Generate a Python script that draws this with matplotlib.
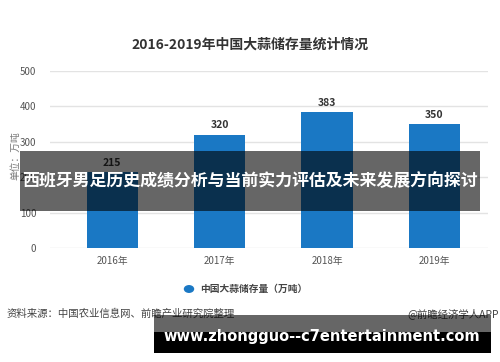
import matplotlib
matplotlib.use("Agg")
import matplotlib.pyplot as plt
from matplotlib.patches import Rectangle

plt.rcParams['font.family'] = ['Noto Sans CJK SC', 'DejaVu Sans']

categories = ["2016年", "2017年", "2018年", "2019年"]
values = [215, 320, 383, 350]
yticks = [0, 100, 200, 300, 400, 500]
title = "2016-2019年中国大蒜储存量统计情况"
ylabel = "单位：万吨"
legend_label = "中国大蒜储存量（万吨）"
source = "资料来源：中国农业信息网、前瞻产业研究院整理"
brand = "@前瞻经济学人APP"
banner = "西班牙男足历史成绩分析与当前实力评估及未来发展方向探讨"
url = "www.zhongguo--c7entertainment.com"

W, H = 500, 362
fig = plt.figure(figsize=(W/100, H/100), dpi=100)
fig.patch.set_facecolor("white")

ax = fig.add_axes([50/W, 1-248/H, 438/W, 177/H])
bar_color = "#1a78c4"
x = list(range(len(categories)))
ax.bar(x, values, width=0.48, color=bar_color, zorder=2)
for xi, v in zip(x, values):
    ax.text(xi, v + 12, str(v), ha="center", va="bottom", fontsize=7.5,
            fontweight="bold", color="#333333")
ax.set_xlim(-0.58, 3.5)
ax.set_ylim(0, 500)
ax.set_yticks(yticks)
ax.set_yticklabels([str(t) for t in yticks], fontsize=7, color="#555555")
ax.set_xticks(x)
ax.set_xticklabels(categories, fontsize=7, color="#555555")
ax.tick_params(axis="both", length=0, pad=6)
ax.tick_params(axis="y", pad=10)
ax.grid(axis="y", color="#e3e3e3", linewidth=1.0, zorder=0)
for s in ax.spines.values():
    s.set_visible(False)
ax.set_facecolor("white")

fig.text(15/W, 1-156/H, ylabel, rotation=90, ha="center", va="center",
         fontsize=7, color="#777777")

fig.text(250/W, 1-45/H, title, ha="center", va="center", fontsize=10,
         fontweight="bold", color="#333333")

# legend
fig.patches.append(plt.Circle((189/W, 1-289/H), 4.5/W, transform=fig.transFigure,
                              color=bar_color, figure=fig))
fig.text(200/W, 1-289/H, legend_label, ha="left", va="center", fontsize=7,
         fontweight="bold", color="#444444")

fig.text(7/W, 1-314/H, source, ha="left", va="center", fontsize=7.5, color="#444444")
fig.text(499/W, 1-314/H, brand, ha="right", va="center", fontsize=7.5, color="#444444")

# banner overlay
fig.patches.append(Rectangle((20/W, 1-211/H), 460/W, 60/H, transform=fig.transFigure,
                             facecolor="black", alpha=0.6, edgecolor="none", zorder=5, figure=fig))
fig.text(250/W, 1-181/H, banner, ha="center", va="center", fontsize=12.2,
         fontweight="bold", color="white", zorder=6)

# url band
fig.patches.append(Rectangle((154/W, 1-332/H), 337/W, 17/H, transform=fig.transFigure,
                             facecolor="black", alpha=0.6, edgecolor="none", zorder=5, figure=fig))
fig.patches.append(Rectangle((154/W, 1-353/H), 337/W, 21/H, transform=fig.transFigure,
                             facecolor="black", edgecolor="none", zorder=5, figure=fig))
fig.text(322/W, 1-337/H, url, ha="center", va="center", fontsize=10.5,
         fontweight="bold", color="white", family="DejaVu Sans", zorder=6)

fig.savefig("out.png", dpi=100, facecolor="white")
